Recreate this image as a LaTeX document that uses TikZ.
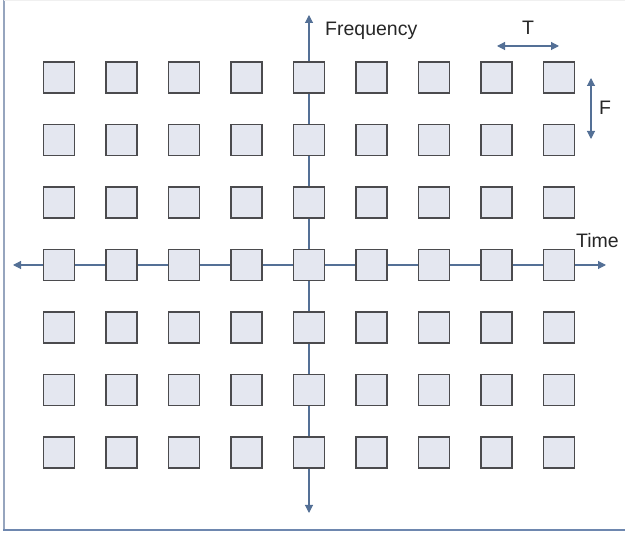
\documentclass[tikz,border=0pt]{standalone}
\usepackage{fontspec}
\setmainfont{Liberation Sans}
\usetikzlibrary{arrows.meta}
\definecolor{axisblue}{RGB}{84,112,150}
\definecolor{framel}{RGB}{150,165,190}
\definecolor{frameb}{RGB}{110,135,175}
\definecolor{cellfill}{RGB}{228,231,240}
\definecolor{celldraw}{RGB}{75,75,78}
\tikzset{
  cell/.style={draw=celldraw, fill=cellfill, line width=1.2pt, minimum size=31pt, inner sep=0pt},
  axisline/.style={draw=axisblue, line width=1.1pt, -{Triangle[length=8pt,width=8pt]}},
  dimline/.style={draw=axisblue, line width=1.1pt, {Triangle[length=8pt,width=8pt]}-{Triangle[length=8pt,width=8pt]}},
  lbl/.style={font=\fontsize{19.5}{22}\selectfont, text=black!85, inner sep=0pt}
}
\begin{document}
\begin{tikzpicture}[x=1pt,y=-1pt]
\useasboundingbox (0,0) rectangle (625,534);
% frame
\draw[framel, line width=2pt] (4,0) -- (4,530);
\draw[frameb, line width=1.6pt] (3,530) -- (625,530);
\draw[black!6, line width=0.8pt] (4,0.5) -- (625,0.5);
% axes
\coordinate (fT) at (309,15);
\coordinate (fB) at (309,513);
\coordinate (tL) at (13,265);
\coordinate (tR) at (606,265);
\coordinate (o) at (309,265);
\draw[axisline] (o) -- (fT);
\draw[axisline] (o) -- (fB);
\draw[axisline] (o) -- (tL);
\draw[axisline] (o) -- (tR);
% grid of cells
\foreach \i in {0,...,8}{
  \foreach \j in {0,...,6}{
    \node[cell] (c\i-\j) at ({59+62.5*\i},{77.5+62.5*\j}) {};
  }
}
% labels
\node[lbl, anchor=west] (freq) at (325,31) {Frequency};
\node[lbl, anchor=west] (time) at (576,241) {Time};
% T and F dimension marks
\coordinate (tA) at (497,46);
\coordinate (tB) at (559,46);
\draw[dimline] (tA) -- (tB);
\node[lbl] (Tl) at (528,28) {T};
\coordinate (fA) at (591,78);
\coordinate (fB2) at (591,139);
\draw[dimline] (fA) -- (fB2);
\node[lbl] (Fl) at (605,108) {F};
\end{tikzpicture}
\end{document}
